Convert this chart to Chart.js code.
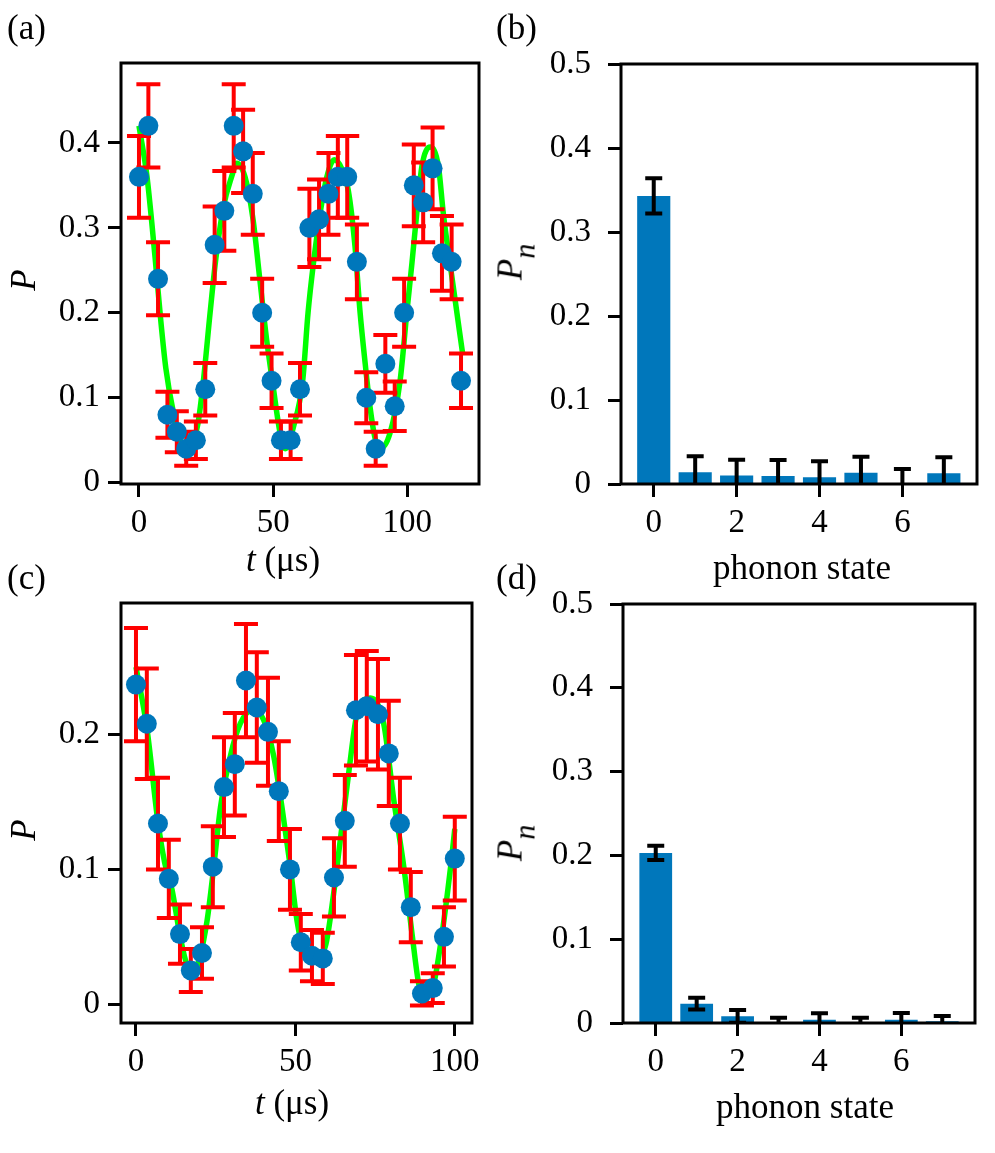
<!DOCTYPE html>
<html lang="en">
<head>
<meta charset="UTF-8" />
<title>Rabi oscillations and phonon distributions</title>
<script src="https://cdn.jsdelivr.net/npm/chart.js@4"></script>
<style>
    body { margin: 0; background: #fff; }
    #fig { position: relative; width: 995px; height: 1153px; background: #fff; font-family: 'Liberation Serif', 'Times New Roman', serif; color: #000; }
    #fig canvas { position: absolute; }
    .lab { position: absolute; font-size: 35px; line-height: 1; white-space: nowrap; }
    .xt { transform: translateX(-50%); }
    .yt { transform: translate(-50%, -50%) rotate(-90deg); }
    .sub { position: relative; top: 0.42em; font-size: 30px; font-style: italic; }
</style>
</head>
<body>
<div id="fig">
    <canvas id="chA" width="490" height="600" style="left:0;top:0"></canvas>
    <canvas id="chB" width="505" height="600" style="left:490px;top:0"></canvas>
    <canvas id="chC" width="490" height="603" style="left:0;top:550px"></canvas>
    <canvas id="chD" width="505" height="603" style="left:490px;top:550px"></canvas>

    <!-- panel letters -->
    <div class="lab" style="left:7px;top:10px">(a)</div>
    <div class="lab" style="left:496px;top:10px">(b)</div>
    <div class="lab" style="left:7px;top:560px">(c)</div>
    <div class="lab" style="left:496px;top:560px">(d)</div>

    <!-- axis titles -->
    <div class="lab xt" style="left:283px;top:542px"><i>t</i> (μs)</div>
    <div class="lab xt" style="left:292px;top:1085px"><i>t</i> (μs)</div>
    <div class="lab xt" style="left:802px;top:550px">phonon state</div>
    <div class="lab xt" style="left:805px;top:1089px">phonon state</div>
    <div class="lab yt" style="left:23px;top:280px"><i>P</i></div>
    <div class="lab yt" style="left:23px;top:830px"><i>P</i></div>
    <div class="lab yt" style="left:510px;top:262px"><i>P</i><span class="sub">n</span></div>
    <div class="lab yt" style="left:510px;top:843px"><i>P</i><span class="sub">n</span></div>
</div>

<script>
// (a) first Rabi flop: time, population, error
const tA = [0, 3.5, 7.1, 10.6, 14.1, 17.6, 21.2, 24.7, 28.2, 31.8, 35.3, 38.8, 42.4, 45.9, 49.4, 52.9, 56.5, 60.0,
            63.5, 67.1, 70.6, 74.1, 77.6, 81.2, 84.7, 88.2, 91.8, 95.3, 98.8, 102.4, 105.9, 109.4, 112.9, 116.5, 120.0];
const pA = [0.36, 0.42, 0.24, 0.08, 0.06, 0.04, 0.05, 0.11, 0.28, 0.32, 0.42, 0.39, 0.34, 0.20, 0.12, 0.05, 0.05, 0.11,
            0.30, 0.31, 0.34, 0.36, 0.36, 0.26, 0.10, 0.04, 0.14, 0.09, 0.20, 0.35, 0.33, 0.37, 0.27, 0.26, 0.12];
const errA = [0.048, 0.049, 0.043, 0.027, 0.024, 0.020, 0.022, 0.031, 0.045, 0.047, 0.049, 0.049, 0.048, 0.040, 0.032, 0.022, 0.022, 0.031,
              0.046, 0.047, 0.048, 0.048, 0.048, 0.044, 0.030, 0.020, 0.034, 0.029, 0.040, 0.048, 0.047, 0.048, 0.044, 0.044, 0.032];
// fit curve (a)
const fitTA = [0, 3, 6, 8, 10, 13, 16, 18, 20, 22, 24, 26.5, 28.5, 31.5, 34.5, 36.5, 39.5, 42.5, 45, 47.5, 50, 52.5, 54.5, 57.5, 61,
               63, 65, 67.5, 70, 72.8, 75.5, 78, 80.5, 82.4, 84.3, 86.1, 88, 89.7, 93.5, 97.3, 99.8, 101.7, 103.5, 105.4, 108.5,
               111.6, 113.4, 117.1, 120.6];
const fitPA = [0.42, 0.36, 0.265, 0.195, 0.135, 0.08, 0.045, 0.035, 0.045, 0.07, 0.12, 0.2, 0.26, 0.325, 0.36, 0.376, 0.36, 0.31,
               0.24, 0.17, 0.113, 0.06, 0.04, 0.065, 0.12, 0.2, 0.258, 0.317, 0.36, 0.38, 0.37, 0.344, 0.278, 0.2, 0.14, 0.089,
               0.052, 0.04, 0.058, 0.12, 0.2, 0.258, 0.317, 0.372, 0.395, 0.372, 0.317, 0.231, 0.152];

// (c) second Rabi flop
const tC = [0, 3.4, 6.9, 10.3, 13.8, 17.2, 20.7, 24.1, 27.6, 31.0, 34.5, 37.9, 41.4, 44.8, 48.3, 51.7, 55.2, 58.6,
            62.1, 65.5, 69.0, 72.4, 75.9, 79.3, 82.8, 86.2, 89.7, 93.1, 96.6, 100.0];
const pC = [0.237, 0.208, 0.134, 0.093, 0.052, 0.025, 0.038, 0.102, 0.161, 0.178, 0.240, 0.220, 0.202, 0.158, 0.100, 0.046, 0.036, 0.034,
            0.094, 0.136, 0.218, 0.221, 0.215, 0.186, 0.134, 0.072, 0.008, 0.012, 0.050, 0.108];
const errC = [0.042, 0.041, 0.034, 0.029, 0.022, 0.016, 0.019, 0.030, 0.037, 0.038, 0.042, 0.041, 0.040, 0.037, 0.030, 0.021, 0.019, 0.019,
              0.029, 0.034, 0.041, 0.041, 0.041, 0.039, 0.034, 0.026, 0.009, 0.011, 0.022, 0.031];
const fitTC = [0, 3.4, 6.9, 9, 11.3, 13.5, 15.5, 18, 20, 22.3, 24.4, 26.5, 29.6, 32.7, 36.4, 40, 43.2, 45.8, 48.4, 50.5,
               52.6, 55.7, 59.4, 62, 64.1, 66.7, 69.4, 73.5, 77.7, 80.9, 84, 86.6, 88.7, 90.3, 92, 93.4, 96, 98.7, 100];
const fitPC = [0.25, 0.205, 0.135, 0.105, 0.085, 0.055, 0.033, 0.024, 0.035, 0.062, 0.102, 0.146, 0.184, 0.208, 0.218, 0.211,
               0.184, 0.146, 0.102, 0.062, 0.04, 0.033, 0.043, 0.082, 0.122, 0.171, 0.216, 0.227, 0.208, 0.151, 0.102, 0.052,
               0.015, 0.005, 0.008, 0.015, 0.052, 0.102, 0.13];

// (b), (d) phonon number distributions
const phononN = [0, 1, 2, 3, 4, 5, 6, 7];
const pnB = [0.343, 0.014, 0.010, 0.0095, 0.008, 0.0135, 0.0, 0.0127];
const pnErrB = [0.021, 0.019, 0.019, 0.019, 0.019, 0.019, 0.018, 0.019];
const pnD = [0.203, 0.023, 0.008, 0.001, 0.004, 0.001, 0.004, 0.002];
const pnErrD = [0.0085, 0.007, 0.0076, 0.0053, 0.0077, 0.0053, 0.0078, 0.0063];

// tick values
const tTicks = [0, 50, 100];
const pTicksA = [0, 0.1, 0.2, 0.3, 0.4];
const pTicksC = [0, 0.1, 0.2];
const nTicks = [0, 2, 4, 6];
const pnTicks = [0, 0.1, 0.2, 0.3, 0.4, 0.5];

const BLUE = '#0077bb';

// error bars drawn with the chart's own scales
function drawErrors(chart, index, layer) {
    const ds = chart.data.datasets[index];
    const eb = ds.errorBars;
    if (!eb || eb.layer !== layer) return;
    const meta = chart.getDatasetMeta(index);
    const xs = chart.scales[meta.xAxisID], ys = chart.scales[meta.yAxisID];
    const a = chart.chartArea, ctx = chart.ctx;
    ctx.save();
    ctx.beginPath();
    ctx.rect(a.left, a.top, a.right - a.left, a.bottom - a.top);
    ctx.clip();
    ctx.strokeStyle = eb.color;
    ctx.lineWidth = eb.width;
    ds.data.forEach((d, i) => {
        const x = xs.getPixelForValue(d.x);
        const lo = ys.getPixelForValue(d.y - eb.values[i]);
        const hi = ys.getPixelForValue(d.y + eb.values[i]);
        const h = eb.cap / 2;
        ctx.beginPath();
        ctx.moveTo(x, lo); ctx.lineTo(x, hi);
        ctx.moveTo(x - h, lo); ctx.lineTo(x + h, lo);
        ctx.moveTo(x - h, hi); ctx.lineTo(x + h, hi);
        ctx.stroke();
    });
    ctx.restore();
}

const errorBarPlugin = {
    id: 'errorBars',
    beforeDatasetDraw(chart, args) { drawErrors(chart, args.index, 'below'); },
    afterDatasetDraw(chart, args) { drawErrors(chart, args.index, 'above'); }
};

// closed box around the plot area
const framePlugin = {
    id: 'frame',
    afterDraw(chart) {
        const a = chart.chartArea, ctx = chart.ctx;
        ctx.save();
        ctx.strokeStyle = '#000';
        ctx.lineWidth = 3;
        ctx.strokeRect(a.left, a.top, a.right - a.left, a.bottom - a.top);
        ctx.restore();
    }
};

function axis(pos, min, max, ticks, size, pad) {
    return {
        type: 'linear', position: pos, min: min, max: max, offset: false,
        grid: { display: true, drawOnChartArea: false, drawTicks: true, tickLength: 13, tickWidth: 3, tickColor: '#000', offset: false },
        border: { display: false },
        ticks: {
            color: '#000', padding: pad, maxRotation: 0, autoSkip: false,
            font: { family: 'Liberation Serif', size: 33 },
            callback: v => String(v)
        },
        afterBuildTicks: s => { s.ticks = ticks.map(v => ({ value: v })); },
        afterFit: s => { if (pos === 'left') s.width = size; else s.height = size; }
    };
}

function baseOptions(padding, x, y) {
    return {
        responsive: false, animation: false, devicePixelRatio: 1, events: [],
        layout: { padding: padding },
        plugins: { legend: { display: false }, tooltip: { enabled: false } },
        scales: { x: x, y: y }
    };
}

function rabiChart(id, t, p, err, fitT, fitP, opts) {
    return new Chart(document.getElementById(id), {
        type: 'scatter',
        data: {
            datasets: [
                {
                    type: 'line', data: fitT.map((x, i) => ({ x: x, y: fitP[i] })),
                    borderColor: '#00ff00', borderWidth: 5.5, pointRadius: 0,
                    cubicInterpolationMode: 'monotone', fill: false, order: 2
                },
                {
                    type: 'scatter', data: t.map((x, i) => ({ x: x, y: p[i] })),
                    backgroundColor: BLUE, borderWidth: 0, pointRadius: 10, order: 1,
                    errorBars: { values: err, color: '#ff0000', width: 4, cap: 24, layer: 'below' }
                }
            ]
        },
        options: baseOptions(opts.padding,
            axis('bottom', opts.xMin, opts.xMax, tTicks, opts.xH, 7),
            axis('left', opts.yMin, opts.yMax, opts.yTicks, opts.yW, 8)),
        plugins: [errorBarPlugin, framePlugin]
    });
}

function phononChart(id, pn, err, opts) {
    return new Chart(document.getElementById(id), {
        type: 'bar',
        data: {
            datasets: [{
                data: phononN.map((n, i) => ({ x: n, y: pn[i] })),
                backgroundColor: BLUE, borderWidth: 0,
                barPercentage: 0.8, categoryPercentage: 1.0,
                errorBars: { values: err, color: '#000', width: 4, cap: 17, layer: 'above' }
            }]
        },
        options: baseOptions(opts.padding,
            axis('bottom', opts.xMin, opts.xMax, nTicks, opts.xH, 7),
            axis('left', 0, 0.5, pnTicks, opts.yW, 17)),
        plugins: [errorBarPlugin, framePlugin]
    });
}

rabiChart('chA', tA, pA, errA, fitTA, fitPA, {
    padding: { top: 63, right: 11, bottom: 0, left: 0 },
    xMin: -6.7, xMax: 126.7, yMin: -0.0015, yMax: 0.494, yTicks: pTicksA, xH: 116, yW: 121
});
rabiChart('chC', tC, pC, errC, fitTC, fitPC, {
    padding: { top: 53, right: 18, bottom: 0, left: 0 },
    xMin: -4.7, xMax: 105.4, yMin: -0.0139, yMax: 0.2975, yTicks: pTicksC, xH: 130, yW: 121
});
phononChart('chB', pnB, pnErrB, {
    padding: { top: 64, right: 18, bottom: 0, left: 0 },
    xMin: -0.79, xMax: 7.8, xH: 116, yW: 131
});
phononChart('chD', pnD, pnErrD, {
    padding: { top: 54, right: 20, bottom: 0, left: 0 },
    xMin: -0.8, xMax: 7.8, xH: 130, yW: 133
});
</script>
</body>
</html>
